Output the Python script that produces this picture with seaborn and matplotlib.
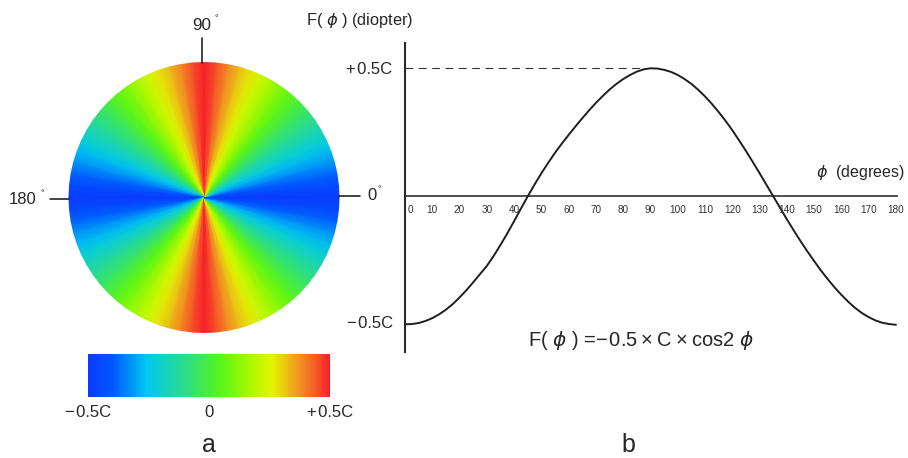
import numpy as np
import matplotlib
matplotlib.use("Agg")
import matplotlib.pyplot as plt
import seaborn as sns
from matplotlib.colors import LinearSegmentedColormap, Normalize
from matplotlib.cm import ScalarMappable

# F(phi), in units of C, every 2.5 degrees
phi = [i * 2.5 for i in range(73)]
F = [-0.500, -0.499, -0.495, -0.487, -0.476, -0.461, -0.443, -0.421, -0.395, -0.367,
     -0.336, -0.304, -0.272, -0.233, -0.190, -0.145, -0.097, -0.048, 0.000, 0.046,
     0.090, 0.131, 0.170, 0.206, 0.240, 0.273, 0.305, 0.336, 0.365, 0.392,
     0.417, 0.439, 0.458, 0.474, 0.487, 0.496, 0.500, 0.499, 0.494, 0.486,
     0.474, 0.458, 0.439, 0.416, 0.390, 0.361, 0.329, 0.295, 0.258, 0.218,
     0.177, 0.134, 0.090, 0.045, 0.000, -0.045, -0.090, -0.133, -0.175, -0.215,
     -0.253, -0.290, -0.324, -0.356, -0.385, -0.412, -0.436, -0.456, -0.472, -0.485,
     -0.494, -0.499, -0.502]
phi_ticks = list(range(0, 181, 10))

# colour level of the disk per meridian, 0..90 deg every 5 deg (panel a)
disk_deg = list(range(0, 91, 5))
disk_level = [-0.5, -0.45, -0.39, -0.33, -0.28, -0.22, -0.17, -0.11, -0.055, 0.0,
              0.055, 0.11, 0.17, 0.22, 0.28, 0.33, 0.39, 0.45, 0.5]

cbar_ticks = [-0.5, 0, 0.5]
cbar_labels = ["\u2212\u200a0.5C", "0", "+\u200a0.5C"]

# colour scale of the disk / colour bar
cmap_pos = [0.0, 0.1, 0.24, 0.42, 0.55, 0.66, 0.76, 0.86, 0.94, 1.0]
cmap_cols = ['#0a3cff', '#0058ff', '#00c8f0', '#30e07a', '#5af518',
             '#a2f800', '#e4f600', '#efa020', '#f65a28', '#f81e2a']

sns.set_style("white")
plt.rcParams['font.family'] = ['Liberation Sans', 'DejaVu Sans']
plt.rcParams['mathtext.fontset'] = 'dejavusans'

W, H = 908, 458
fig = plt.figure(figsize=(W / 100, H / 100), dpi=100)

def box(l, t, r, b):
    return [l / W, 1 - b / H, (r - l) / W, (b - t) / H]

def px(x, y):
    return x / W, 1 - y / H

cmap = LinearSegmentedColormap.from_list("astig", list(zip(cmap_pos, cmap_cols)))
norm = Normalize(-0.5, 0.5)

# ---- panel a: disk coloured by meridian
R = 135.0
ax_d = fig.add_axes(box(204 - 150, 197.5 - 150, 204 + 150, 197.5 + 150))
half_deg = disk_deg + [180 - d for d in disk_deg[-2::-1]]
half_lvl = disk_level + disk_level[-2::-1]
all_deg = half_deg + [d + 180 for d in half_deg[1:]]
all_lvl = np.array(half_lvl + half_lvl[1:])
theta = np.deg2rad(all_deg)
rr = np.array([0.0, 1.0])
X = rr[:, None] * np.cos(theta)[None, :]
Y = rr[:, None] * np.sin(theta)[None, :]
ax_d.pcolormesh(X, Y, np.vstack([all_lvl, all_lvl]), cmap=cmap, norm=norm,
                shading='gouraud')
lim = 150 / R
ax_d.set_xlim(-lim, lim)
ax_d.set_ylim(-lim, lim)
ax_d.set_aspect('equal')
ax_d.axis('off')
# meridian marks
ax_d.plot([-0.012, -0.012], [1.0, 1.18], color='#111', lw=1.1, clip_on=False)
ax_d.plot([-1.14, -1.0], [-0.011, -0.011], color='#111', lw=1.1, clip_on=False)
ax_d.plot([1.0, 1.156], [0.013, 0.013], color='#111', lw=1.1, clip_on=False)
fig.text(*px(202, 25), "90", ha='center', va='center', fontsize=12.3)
fig.text(*px(216, 19), "\u00b0", ha='center', va='center', fontsize=6.5)
fig.text(*px(37, 200), "180", ha='right', va='center', fontsize=12)
fig.text(*px(42, 194), "\u00b0", ha='center', va='center', fontsize=6.5)
fig.text(*px(367, 196), "0", ha='left', va='center', fontsize=12)
fig.text(*px(379, 190), "\u00b0", ha='center', va='center', fontsize=6.5)

# colour bar
cax = fig.add_axes(box(88.3, 354.3, 330, 396.7))
cb = fig.colorbar(ScalarMappable(norm=norm, cmap=cmap), cax=cax, orientation='horizontal')
cb.outline.set_visible(False)
cb.set_ticks(cbar_ticks)
cb.set_ticklabels(cbar_labels)
cax.tick_params(length=0, pad=6, labelsize=12)

fig.text(*px(209, 457), "a", ha='center', va='bottom', fontsize=18)

# ---- panel b: F(phi) curve
x_right = 180 * (898 - 405) / (896 - 405)
ax = fig.add_axes(box(405, 42.7, 898, 351.7))
sns.lineplot(x=phi, y=F, ax=ax, color='#1e1e1e', lw=1.4)
ax.set_xlim(0, x_right)
ax.set_ylim(-0.607, 0.6)
for s in ['top', 'right', 'bottom']:
    ax.spines[s].set_visible(False)
ax.spines['left'].set_color('#2a2a2a')
ax.spines['left'].set_linewidth(1.5)
ax.set_xticks([])
ax.set_yticks([])
ax.set_xlabel("")
ax.set_ylabel("")
ax.axhline(0, color='#1e1e1e', lw=1.1)
ax.hlines(0.5, 0, 86, color='#333', lw=0.8, linestyles=(0, (7, 5)))
for t in phi_ticks:
    ax.text(t + (2 if t == 0 else 0), -0.055, str(t), ha='center', va='center',
            fontsize=7.2, color='#333')
fig.text(*px(392, 70), "+\u200a0.5C", ha='right', va='center', fontsize=12)
fig.text(*px(393, 324), "\u2212\u200a0.5C", ha='right', va='center', fontsize=12)
fig.text(*px(306, 20), "F( $\\phi$ ) (diopter)", ha='left', va='center', fontsize=11.8)
fig.text(*px(816, 173), "$\\phi$  (degrees)", ha='left', va='center', fontsize=11.5)
fig.text(*px(641, 340), "F( $\\phi$ ) =\u2212\u200a0.5\u2009\u00d7\u2009C\u2009\u00d7\u2009cos2 $\\phi$",
         ha='center', va='center', fontsize=14.5)
fig.text(*px(628, 457), "b", ha='center', va='bottom', fontsize=18)

fig.savefig("out.png", dpi=100)
